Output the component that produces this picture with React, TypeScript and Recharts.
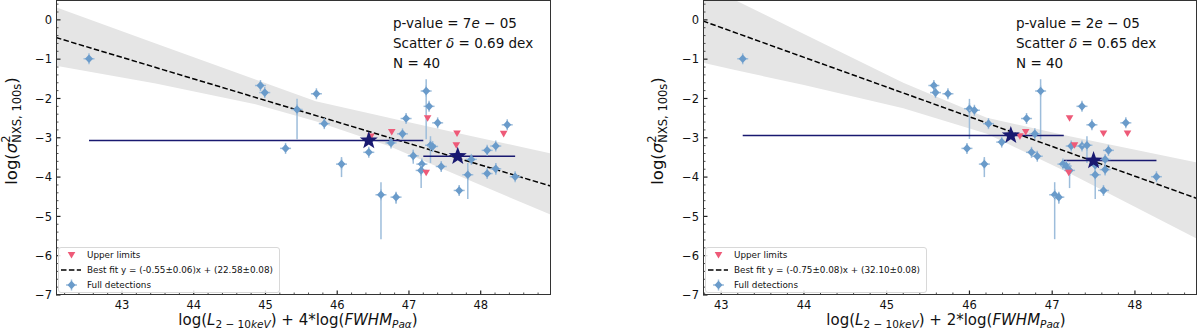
import React from "react";
import { ComposedChart, Area, Line, Scatter, XAxis, YAxis, ErrorBar } from "recharts";

// [x, y, yErrLow, yErrHigh]
const P1_DETECTIONS: [number, number, number, number][] = [
  [42.54, -0.99, 0.08, 0.08], [44.93, -1.67, 0.08, 0.08], [44.99, -1.85, 0.08, 0.08],
  [45.71, -1.88, 0.08, 0.08], [45.44, -2.28, 0.76, 0.27], [45.82, -2.64, 0.08, 0.08],
  [45.28, -3.27, 0.08, 0.08], [46.06, -3.67, 0.33, 0.18], [46.44, -3.37, 0.08, 0.08],
  [46.61, -4.45, 1.13, 0.32], [46.82, -4.51, 0.17, 0.12], [46.75, -3.13, 0.08, 0.08],
  [46.91, -2.9, 0.08, 0.08], [46.96, -2.51, 0.08, 0.08], [47.06, -3.46, 0.2, 0.16],
  [47.18, -3.67, 0.08, 0.08], [47.17, -3.83, 0.45, 0.19], [47.24, -1.81, 1.23, 0.3],
  [47.28, -2.2, 0.08, 0.08], [47.3, -3.19, 0.45, 0.23], [47.33, -3.22, 0.08, 0.08],
  [47.4, -2.62, 0.08, 0.08], [47.45, -3.73, 0.1, 0.1], [47.7, -4.34, 0.1, 0.1],
  [47.82, -3.94, 0.62, 0.3], [47.87, -3.55, 0.1, 0.1], [48.09, -3.32, 0.08, 0.08],
  [48.21, -3.21, 0.08, 0.08], [48.09, -3.91, 0.08, 0.08], [48.21, -3.79, 0.15, 0.15],
  [48.37, -2.67, 0.1, 0.1], [48.48, -3.99, 0.08, 0.08],
];
const P1_UPPER_LIMITS: [number, number][] = [
  [46.47, -2.97], [46.76, -2.85], [47.26, -2.5], [47.24, -3.89], [47.67, -2.89], [47.66, -3.19], [48.32, -2.9],
];
// [x, y, xmin, xmax]
const P1_BINS: [number, number, number, number][] = [
  [46.44, -3.07, 42.54, 47.2],
  [47.68, -3.47, 47.2, 48.48],
];
const P1_BAND_X = [42.08, 43.47, 44.86, 45.7, 46.72, 47.8, 48.98];
const P1_BAND_HI = [0.32, -0.6, -1.52, -2.07, -2.49, -2.93, -3.4];
const P1_BAND_LO = [-1.17, -1.62, -2.15, -2.58, -3.21, -4.05, -4.96];
const P1_FIT: [number, number][] = [[42.08, -0.45], [48.98, -4.23]];

const P2_DETECTIONS: [number, number, number, number][] = [
  [43.26, -0.99, 0.08, 0.08], [45.57, -1.67, 0.08, 0.08], [45.59, -1.85, 0.08, 0.08],
  [45.74, -1.88, 0.08, 0.08], [46.0, -2.26, 0.77, 0.25], [46.06, -2.3, 0.08, 0.08],
  [46.23, -2.64, 0.08, 0.08], [45.97, -3.27, 0.08, 0.08], [46.18, -3.67, 0.33, 0.18],
  [46.39, -3.11, 0.08, 0.08], [46.69, -2.51, 0.08, 0.08], [46.79, -2.9, 0.08, 0.08],
  [46.86, -1.81, 1.23, 0.3], [46.75, -3.37, 0.08, 0.08], [46.82, -3.47, 0.08, 0.08],
  [47.03, -4.45, 1.13, 0.32], [47.08, -4.51, 0.17, 0.12], [47.36, -2.2, 0.08, 0.08],
  [47.48, -2.67, 0.08, 0.08], [47.89, -2.62, 0.08, 0.08], [47.23, -3.21, 0.08, 0.08],
  [47.36, -3.21, 0.08, 0.08], [47.42, -3.19, 0.45, 0.23], [47.13, -3.67, 0.08, 0.08],
  [47.17, -3.72, 0.08, 0.08], [47.21, -3.83, 0.45, 0.19], [47.52, -3.7, 0.08, 0.08],
  [47.52, -3.94, 0.62, 0.3], [47.64, -3.55, 0.08, 0.08], [47.64, -3.81, 0.15, 0.15],
  [47.68, -3.32, 0.08, 0.08], [47.62, -4.34, 0.1, 0.1], [48.26, -3.99, 0.08, 0.08],
];
const P2_UPPER_LIMITS: [number, number][] = [
  [46.61, -2.96], [46.68, -2.85], [47.21, -2.5], [47.27, -3.19], [47.2, -3.89], [47.62, -2.89], [47.91, -2.89],
];
const P2_BINS: [number, number, number, number][] = [
  [46.5, -2.94, 43.26, 47.14],
  [47.5, -3.58, 47.14, 48.26],
];
const P2_BAND_X = [42.78, 43.18, 44.0, 45.2, 46.21, 47.21, 48.77];
const P2_BAND_HI = [0.9, 0.49, -0.36, -1.6, -2.49, -2.96, -3.64];
const P2_BAND_LO = [-1.09, -1.28, -1.66, -2.25, -2.9, -3.9, -5.59];
const P2_FIT: [number, number][] = [[42.78, -0.03], [48.77, -4.56]];

const Y_DOMAIN: [number, number] = [-7, 0.48];
const FONT = "DejaVu Sans";
const BLUE = "#6a9bca";
const BLUE_ERR = "#9dbddb";
const RED = "#ee5a78";
const NAVY = "#191970";

function ticksBetween(lo: number, hi: number) {
  const out: number[] = [];
  for (let k = Math.ceil(lo * 5 - 1e-9); k <= Math.floor(hi * 5 + 1e-9); k++) out.push(k / 5);
  return out;
}
const isMajor = (v: number) => Math.abs(v - Math.round(v)) < 1e-6;

function XTick(props: any) {
  const { x, y, payload } = props;
  const v = payload.value;
  const major = isMajor(v);
  return (
    <g>
      <line x1={x} x2={x} y1={y} y2={y - (major ? 4.5 : 2.5)} stroke="#222" strokeWidth={major ? 1.2 : 0.8} />
      {major && (
        <text x={x} y={y + 14.3} textAnchor="middle" fontSize={11.5} fill="#111" fontFamily={FONT}>
          {Math.round(v)}
        </text>
      )}
    </g>
  );
}

function YTick(props: any) {
  const { x, y, payload } = props;
  const v = payload.value;
  const major = isMajor(v);
  const r = Math.round(v);
  return (
    <g>
      <line x1={x} x2={x + (major ? 4.5 : 2.5)} y1={y} y2={y} stroke="#222" strokeWidth={major ? 1.2 : 0.8} />
      {major && (
        <text x={x - 4} y={y} dy="0.36em" textAnchor="end" fontSize={11.5} fill="#111" fontFamily={FONT}>
          {r === 0 ? "0" : "\u2212" + Math.abs(r)}
        </text>
      )}
    </g>
  );
}

function Diamond(props: any) {
  const { cx, cy } = props;
  if (cx == null || cy == null) return null;
  return (
    <g>
      <line x1={cx - 5.5} x2={cx + 5.5} y1={cy} y2={cy} stroke={BLUE_ERR} strokeWidth={1.5} />
      <line x1={cx} x2={cx} y1={cy - 5.5} y2={cy + 5.5} stroke={BLUE_ERR} strokeWidth={1.5} />
      <path d={`M${cx},${cy - 4.3}L${cx + 4},${cy}L${cx},${cy + 4.3}L${cx - 4},${cy}Z`} fill={BLUE} />
    </g>
  );
}

function Tri(props: any) {
  const { cx, cy } = props;
  if (cx == null || cy == null) return null;
  return <path d={`M${cx - 3.8},${cy - 3}L${cx + 3.8},${cy - 3}L${cx},${cy + 3.6}Z`} fill={RED} />;
}

function StarShape(props: any) {
  const { cx, cy } = props;
  if (cx == null || cy == null) return null;
  const pts: string[] = [];
  for (let i = 0; i < 10; i++) {
    const r = i % 2 === 0 ? 9.5 : 3.9;
    const a = -Math.PI / 2 + (i * Math.PI) / 5;
    pts.push(`${cx + r * Math.cos(a)},${cy + r * Math.sin(a)}`);
  }
  return <polygon points={pts.join(" ")} fill={NAVY} />;
}

type PanelProps = {
  left: number;
  plotLeft: number;
  plotRight: number;
  xDomain: [number, number];
  det: [number, number, number, number][];
  ul: [number, number][];
  bins: [number, number, number, number][];
  bandX: number[];
  bandLo: number[];
  bandHi: number[];
  fit: [number, number][];
};

function Panel(p: PanelProps) {
  const det = p.det.map(([x, y, lo, hi]) => ({ x, y, ey: [lo, hi] }));
  const ul = p.ul.map(([x, y]) => ({ x, y }));
  const bins = p.bins.map(([x, y, a, b]) => ({ x, y, ex: [x - a, b - x] }));
  const band = p.bandX.map((x, i) => ({ x, band: [p.bandLo[i], p.bandHi[i]] }));
  const fit = p.fit.map(([x, y]) => ({ x, y }));
  return (
    <div style={{ position: "absolute", left: p.left, top: 0, width: 600, height: 332 }}>
      <ComposedChart width={600} height={332} margin={{ top: 1, right: 600 - p.plotRight, bottom: 0, left: 0 }}>
        <XAxis
          type="number"
          dataKey="x"
          domain={p.xDomain}
          allowDataOverflow
          ticks={ticksBetween(p.xDomain[0], p.xDomain[1])}
          interval={0}
          tickSize={0}
          tickMargin={0}
          axisLine={false}
          tickLine={false}
          height={37}
          tick={(t: any) => <XTick {...t} />}
        />
        <YAxis
          type="number"
          dataKey="y"
          domain={Y_DOMAIN}
          allowDataOverflow
          ticks={ticksBetween(Y_DOMAIN[0], Y_DOMAIN[1])}
          interval={0}
          tickSize={0}
          tickMargin={0}
          axisLine={false}
          tickLine={false}
          width={p.plotLeft}
          tick={(t: any) => <YTick {...t} />}
        />
        <Area data={band} dataKey="band" type="linear" stroke="none" fill="#e5e5e5" fillOpacity={1} isAnimationActive={false} />
        <Scatter data={det} shape={Diamond} isAnimationActive={false}>
          <ErrorBar dataKey="ey" direction="y" width={0} stroke={BLUE_ERR} strokeWidth={1.5} />
        </Scatter>
        <Line data={fit} dataKey="y" type="linear" stroke="#000" strokeWidth={1.5} strokeDasharray="5.5 2.4" dot={false} activeDot={false} isAnimationActive={false} />
        <Scatter data={ul} shape={Tri} isAnimationActive={false} />
        <Scatter data={bins} shape={StarShape} isAnimationActive={false}>
          <ErrorBar dataKey="ex" direction="x" width={0} stroke={NAVY} strokeWidth={1.5} />
        </Scatter>
      </ComposedChart>
      <div
        style={{
          position: "absolute",
          left: p.plotLeft - 0.5,
          top: 0,
          width: p.plotRight - p.plotLeft,
          height: 295,
          border: "1px solid #333",
          boxSizing: "border-box",
          pointerEvents: "none",
        }}
      />
    </div>
  );
}

function SigmaLabel({ x }: { x: number }) {
  return (
    <svg width={1} height={1} style={{ position: "absolute", left: 0, top: 0, overflow: "visible" }}>
      <text transform={`translate(${x},131) rotate(-90)`} textAnchor="middle" fontSize={16.5} fontFamily={FONT} fill="#111">
        log(<tspan fontStyle="italic">σ</tspan>
        <tspan fontSize={11.5} dy={-7}>2</tspan>
        <tspan fontSize={11.5} dx={-7.3} dy={11}>NXS, 100s</tspan>
        <tspan dy={-4}>)</tspan>
      </text>
    </svg>
  );
}

function XLabel({ x, factor }: { x: number; factor: string }) {
  const sub = { fontSize: 10.5, verticalAlign: "-0.3em", lineHeight: 0 } as const;
  return (
    <div
      style={{
        position: "absolute",
        left: x,
        top: 312.5,
        transform: "translateX(-50%)",
        whiteSpace: "nowrap",
        fontSize: 15,
        lineHeight: "15px",
      }}
    >
      log(<i>L</i>
      <span style={sub}>
        2 − 10<i>keV</i>
      </span>
      ) + {factor}*log(<i>FWHM</i>
      <span style={sub}>
        <i>Paα</i>
      </span>
      )
    </div>
  );
}

function Stats({ x, p, scatter }: { x: number; p: string; scatter: string }) {
  return (
    <div style={{ position: "absolute", left: x, top: 13, fontSize: 13.5, lineHeight: "20px", whiteSpace: "nowrap" }}>
      <div>
        p-value = {p[0]}
        <i>e</i> − {p.slice(2)}
      </div>
      <div>
        Scatter <i>δ</i> = {scatter} dex
      </div>
      <div>N = 40</div>
    </div>
  );
}

function Legend({ x, width, fitText }: { x: number; width: number; fitText: string }) {
  const row = (i: number, sym: React.ReactNode, text: string) => (
    <div style={{ position: "absolute", left: 0, top: i * 15, height: 14, width: width - 2 }}>
      <svg width={26} height={14} style={{ position: "absolute", left: 0, top: 0 }}>
        {sym}
      </svg>
      <span style={{ position: "absolute", left: 28, top: 0, lineHeight: "14px", fontSize: 8.8, whiteSpace: "nowrap" }}>
        {text}
      </span>
    </div>
  );
  return (
    <div
      style={{
        position: "absolute",
        left: x,
        top: 247,
        width,
        height: 46,
        border: "1px solid #d8d8d8",
        borderRadius: 3,
        background: "rgba(255,255,255,0.85)",
        boxSizing: "border-box",
      }}
    >
      {row(0, <path d="M8.7,4L16.3,4L12.5,10.6Z" fill={RED} />, "Upper limits")}
      {row(1, <line x1={2} x2={22} y1={7} y2={7} stroke="#000" strokeWidth={1.5} strokeDasharray="5.5 2.4" />, fitText)}
      {row(
        2,
        <g>
          <line x1={7} x2={18} y1={7} y2={7} stroke={BLUE_ERR} strokeWidth={1.5} />
          <line x1={12.5} x2={12.5} y1={1.5} y2={12.5} stroke={BLUE_ERR} strokeWidth={1.5} />
          <path d="M12.5,2.7L16.5,7L12.5,11.3L8.5,7Z" fill={BLUE} />
        </g>,
        "Full detections"
      )}
    </div>
  );
}

export default function App() {
  return (
    <div
      style={{
        position: "absolute",
        left: 0,
        top: 0,
        width: 1200,
        height: 332,
        background: "#fff",
        fontFamily: FONT,
        color: "#111",
        overflow: "hidden",
      }}
    >
      <Panel
        left={0}
        plotLeft={56}
        plotRight={551}
        xDomain={[42.08, 48.98]}
        det={P1_DETECTIONS}
        ul={P1_UPPER_LIMITS}
        bins={P1_BINS}
        bandX={P1_BAND_X}
        bandLo={P1_BAND_LO}
        bandHi={P1_BAND_HI}
        fit={P1_FIT}
      />
      <Panel
        left={600}
        plotLeft={103}
        plotRight={597}
        xDomain={[42.78, 48.75]}
        det={P2_DETECTIONS}
        ul={P2_UPPER_LIMITS}
        bins={P2_BINS}
        bandX={P2_BAND_X}
        bandLo={P2_BAND_LO}
        bandHi={P2_BAND_HI}
        fit={P2_FIT}
      />
      <SigmaLabel x={16.5} />
      <SigmaLabel x={663} />
      <XLabel x={298} factor="4" />
      <XLabel x={946} factor="2" />
      <Stats x={393} p="7-05" scatter="0.69" />
      <Stats x={1016} p="2-05" scatter="0.65" />
      <Legend x={58} width={222} fitText="Best fit y = (-0.55±0.06)x + (22.58±0.08)" />
      <Legend x={705} width={222} fitText="Best fit y = (-0.75±0.08)x + (32.10±0.08)" />
    </div>
  );
}
